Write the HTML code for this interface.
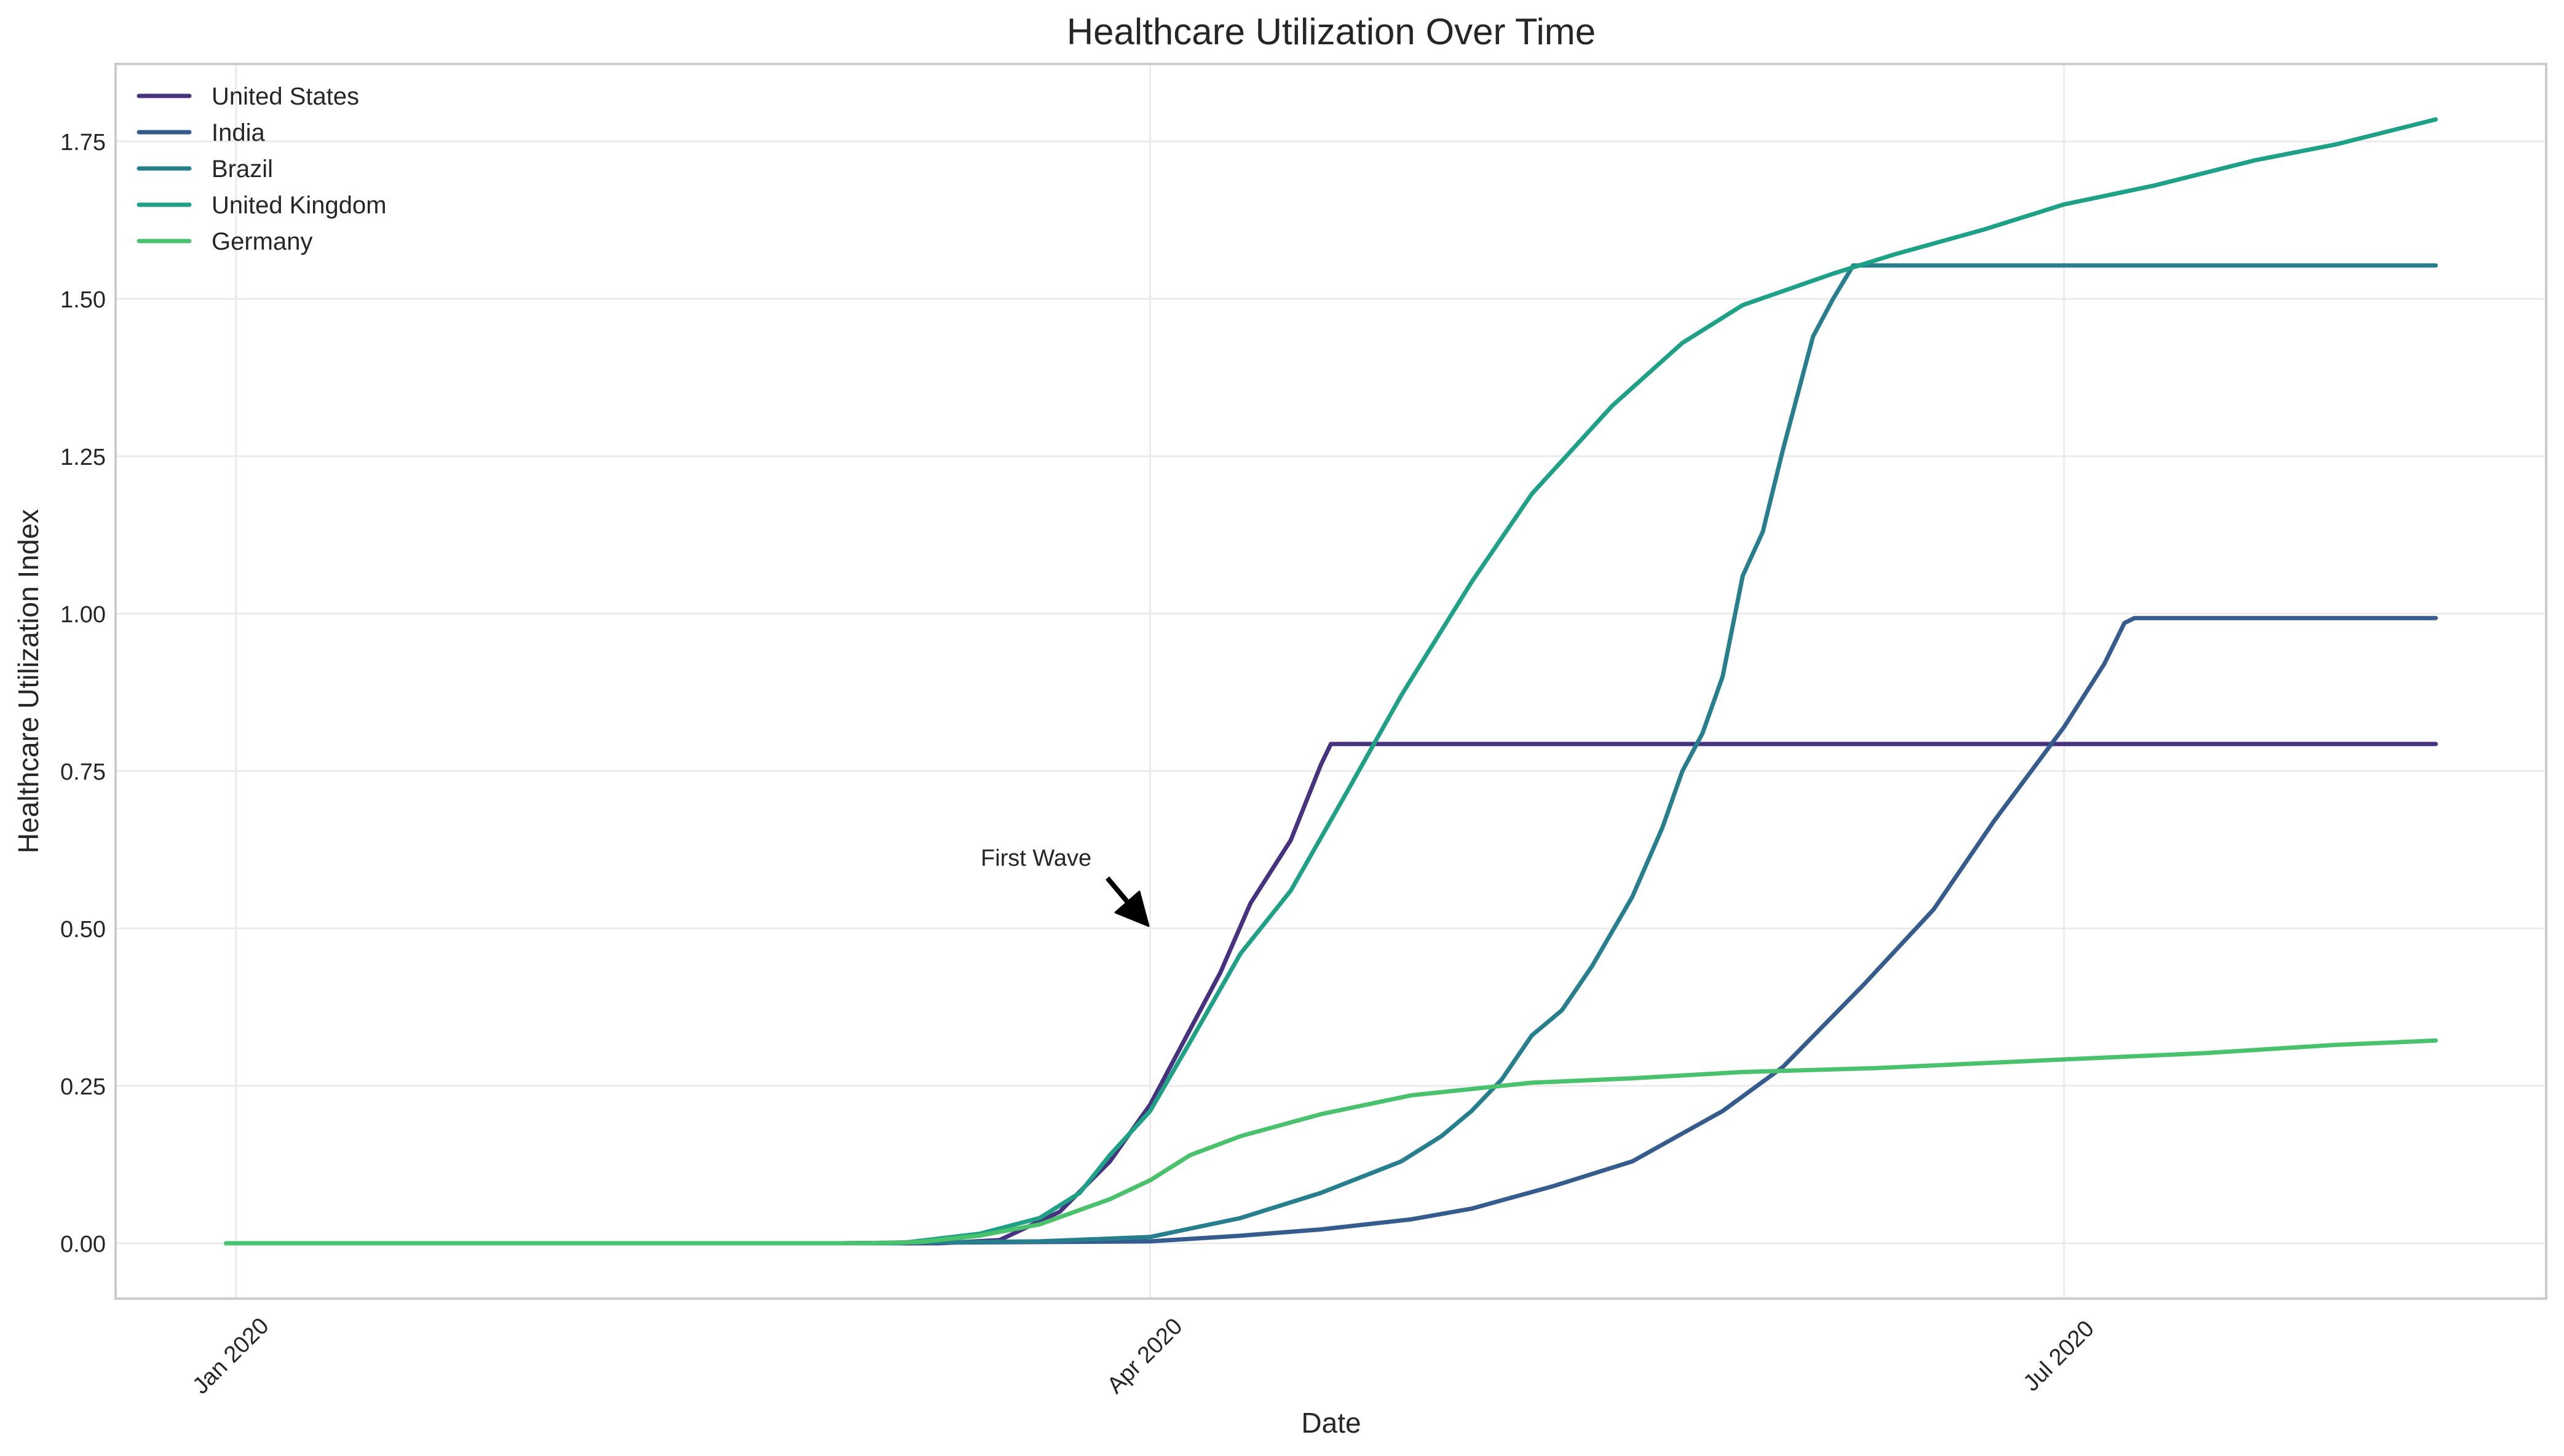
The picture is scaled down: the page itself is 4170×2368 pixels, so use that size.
<!DOCTYPE html>
<html><head><meta charset="utf-8">
<style>
html,body{margin:0;padding:0;background:#fff;}
svg{display:block;font-family:"Liberation Sans",sans-serif;}
</style></head>
<body>
<svg id="chart" width="4170" height="2368" viewBox="0 0 4170 2368" xmlns="http://www.w3.org/2000/svg">
<rect x="0" y="0" width="4170" height="2368" fill="#fff"/>
<g id="grid"></g>
<g id="series"></g>
<rect x="188" y="104" width="3953" height="2008" fill="none" stroke="#cccccc" stroke-width="4"/>
<g id="ticks" fill="#262626" font-size="38"></g>
<text x="2165" y="72" text-anchor="middle" font-size="60" fill="#262626">Healthcare Utilization Over Time</text>
<text x="2165" y="2330" text-anchor="middle" font-size="46" fill="#262626">Date</text>
<text x="0" y="0" transform="translate(62,1108) rotate(-90)" text-anchor="middle" font-size="46" fill="#262626">Healthcare Utilization Index</text>
<g>
<text x="1595" y="1408" font-size="38" fill="#262626">First Wave</text>
<line x1="1801" y1="1428" x2="1838" y2="1472" stroke="#000" stroke-width="8"/>
<polygon points="1868,1506 1814,1484 1853,1450" fill="#000" stroke="#000" stroke-width="3" stroke-linejoin="round"/>
</g>
<g id="legend" font-size="40" fill="#262626"></g>
</svg>
<script>
const yTicks = [0, 0.25, 0.5, 0.75, 1.0, 1.25, 1.5, 1.75];
const yTickLabels = ["0.00","0.25","0.50","0.75","1.00","1.25","1.50","1.75"];
const xTickDays = [0, 91, 182];
const xTickLabels = ["Jan 2020","Apr 2020","Jul 2020"];
const seriesNames = ["United States","India","Brazil","United Kingdom","Germany"];
const seriesColors = ["#46327e","#365c8d","#277f8e","#1fa187","#4ac16d"];
const usDays = [-1,70,76,82,87,91,95,98,101,105,108,109,219];
const usVals = [0,0,0.005,0.05,0.13,0.22,0.34,0.43,0.54,0.64,0.76,0.793,0.793];
const indiaDays = [-1,60,91,100,108,117,123,131,139,148,154,162,169,175,182,186,188,189,219];
const indiaVals = [0,0,0.003,0.012,0.022,0.038,0.055,0.09,0.13,0.21,0.28,0.41,0.53,0.67,0.82,0.92,0.985,0.993,0.993];
const brazilDays = [-1,60,80,91,100,108,116,120,123,126,129,132,135,139,142,144,146,148,150,152,154,157,159,161,219];
const brazilVals = [0,0,0.003,0.01,0.04,0.08,0.13,0.17,0.21,0.26,0.33,0.37,0.44,0.55,0.66,0.75,0.81,0.9,1.06,1.13,1.26,1.44,1.5,1.553,1.553];
const ukDays = [-1,66,74,80,84,87,91,95,100,105,110,116,123,129,137,144,150,159,165,174,182,191,201,209,219];
const ukVals = [0,0,0.015,0.04,0.08,0.14,0.21,0.32,0.46,0.56,0.7,0.87,1.05,1.19,1.33,1.43,1.49,1.54,1.57,1.61,1.65,1.68,1.72,1.745,1.785];
const deDays = [-1,62,68,74,80,87,91,95,100,108,117,123,129,139,150,163,182,196,209,219];
const deVals = [0,0,0.002,0.012,0.03,0.07,0.1,0.14,0.17,0.205,0.235,0.245,0.255,0.262,0.272,0.278,0.292,0.302,0.315,0.322];
const allDays = [usDays, indiaDays, brazilDays, ukDays, deDays];
const allVals = [usVals, indiaVals, brazilVals, ukVals, deVals];

const NS = "http://www.w3.org/2000/svg";
function xScale(d){ return 384 + d * 16.335; }
function yScale(v){ return 2022 - v * 1024; }

const grid = document.getElementById('grid');
const ticks = document.getElementById('ticks');
yTicks.forEach((v,i)=>{
  const l = document.createElementNS(NS,'line');
  
  
  l.setAttribute('x1',188); l.setAttribute('x2',4141);
  l.setAttribute('y1',yScale(v)); l.setAttribute('y2',yScale(v));
  l.setAttribute('stroke','#ebebeb'); l.setAttribute('stroke-width','3');
  grid.appendChild(l);
  const t = document.createElementNS(NS,'text');
  
  
  t.setAttribute('x',172); t.setAttribute('y',yScale(v)+14);
  t.setAttribute('text-anchor','end');
  t.textContent = yTickLabels[i];
  ticks.appendChild(t);
});
xTickDays.forEach((d,i)=>{
  const l = document.createElementNS(NS,'line');
  
  
  l.setAttribute('x1',xScale(d)); l.setAttribute('x2',xScale(d));
  l.setAttribute('y1',104); l.setAttribute('y2',2112);
  l.setAttribute('stroke','#ebebeb'); l.setAttribute('stroke-width','3');
  grid.appendChild(l);
  const t = document.createElementNS(NS,'text');
  
  
  t.setAttribute('text-anchor','middle');
  t.setAttribute('transform','translate('+xScale(d)+',2214) rotate(-45)');
  t.textContent = xTickLabels[i];
  ticks.appendChild(t);
});

const series = document.getElementById('series');
const legend = document.getElementById('legend');
seriesNames.forEach((name,i)=>{
  const days = allDays[i], vals = allVals[i];
  const pts = days.map((d,j)=> xScale(d).toFixed(1)+','+yScale(vals[j]).toFixed(1)).join(' ');
  const p = document.createElementNS(NS,'polyline');
  
  
  p.setAttribute('points',pts);
  p.setAttribute('fill','none');
  p.setAttribute('stroke',seriesColors[i]);
  p.setAttribute('stroke-width','7');
  p.setAttribute('stroke-linejoin','round');
  p.setAttribute('stroke-linecap','round');
  series.appendChild(p);
  const ly = 156 + i*59;
  const ll = document.createElementNS(NS,'line');
  
  
  ll.setAttribute('x1',226); ll.setAttribute('x2',308);
  ll.setAttribute('y1',ly); ll.setAttribute('y2',ly);
  ll.setAttribute('stroke',seriesColors[i]); ll.setAttribute('stroke-width','7');
  ll.setAttribute('stroke-linecap','round');
  legend.appendChild(ll);
  const lt = document.createElementNS(NS,'text');
  
  
  lt.setAttribute('x',344); lt.setAttribute('y',ly+14);
  lt.textContent = name;
  legend.appendChild(lt);
});
</script>
</body></html>
